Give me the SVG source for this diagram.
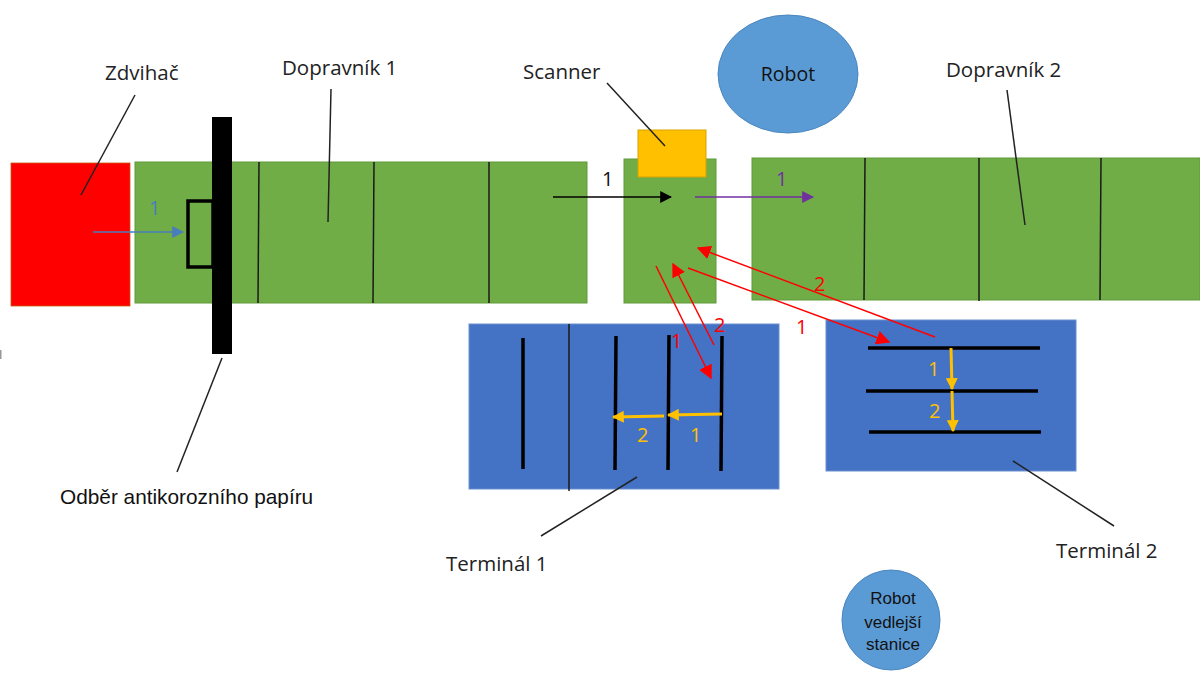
<svg xmlns="http://www.w3.org/2000/svg" width="1200" height="673" viewBox="0 0 1200 673">
  <defs>
    <style>
      .lbl { font-family: "Open Sans", "Liberation Sans", sans-serif; font-size: 20.5px; fill: #222; }
      .lblA { font-family: "Liberation Sans", Arial, sans-serif; font-size: 20.8px; fill: #111; }
      .num { font-family: "Open Sans", "Liberation Sans", sans-serif; font-size: 20px; }
      .robotTxt { font-family: "Open Sans", "Liberation Sans", sans-serif; font-size: 19.5px; fill: #111; text-anchor: middle; }
      .small { font-family: "Liberation Sans", Arial, sans-serif; font-size: 17px; fill: #111; text-anchor: middle; }
      .green { fill: #70AD47; stroke: #5E9A3A; stroke-width: 1; }
      .term { fill: #4472C4; stroke: #6A8FD0; stroke-width: 1; }
      .div { stroke: #1a1a1a; stroke-width: 1.5; }
      .rail { stroke: #000; stroke-width: 3.5; stroke-linecap: butt; }
      .leader { stroke: #222; stroke-width: 1.5; fill: none; }
      .robot { fill: #5B9BD5; stroke: #4A86BE; stroke-width: 1; }
      .red { stroke: #FF0000; stroke-width: 1.5; fill: none; }
      .yel { stroke: #FFC000; stroke-width: 3; fill: none; }
    </style>
    <marker id="mRedL" viewBox="0 0 10 10" refX="9" refY="5" markerWidth="14" markerHeight="14" markerUnits="userSpaceOnUse" orient="auto">
      <path d="M0,0 L10,5 L0,10 z" fill="#FF0000"/>
    </marker>
    <marker id="mYel" viewBox="0 0 10 10" refX="9" refY="5" markerWidth="12" markerHeight="12" markerUnits="userSpaceOnUse" orient="auto">
      <path d="M0,0 L10,5 L0,10 z" fill="#FFC000"/>
    </marker>
    <marker id="mBlk" viewBox="0 0 10 10" refX="9" refY="5" markerWidth="12" markerHeight="12" markerUnits="userSpaceOnUse" orient="auto">
      <path d="M0,0 L10,5 L0,10 z" fill="#000"/>
    </marker>
    <marker id="mPur" viewBox="0 0 10 10" refX="9" refY="5" markerWidth="12" markerHeight="12" markerUnits="userSpaceOnUse" orient="auto">
      <path d="M0,0 L10,5 L0,10 z" fill="#7030A0"/>
    </marker>
    <marker id="mBlu" viewBox="0 0 10 10" refX="9" refY="5" markerWidth="12" markerHeight="12" markerUnits="userSpaceOnUse" orient="auto">
      <path d="M0,0 L10,5 L0,10 z" fill="#4A7EBB"/>
    </marker>
  </defs>

  <rect width="1200" height="673" fill="#fff"/>
  <rect x="0" y="350" width="1.5" height="9" fill="#999"/>

  <!-- lift -->
  <g id="zdvihac">
    <rect x="11" y="163" width="119" height="143" fill="#FF0000" stroke="#C55A11" stroke-width="0.8"/>
    <text class="lbl" x="105" y="80">Zdvihač</text>
  </g>

  <!-- conveyor 1 -->
  <g id="dopravnik1">
    <rect class="green" x="135" y="162" width="452" height="141"/>
    <line class="div" x1="259" y1="162" x2="258" y2="303"/>
    <line class="div" x1="374" y1="162" x2="373" y2="303"/>
    <line class="div" x1="489" y1="162" x2="489" y2="303"/>
    <text class="lbl" x="282" y="75">Dopravník 1</text>
  </g>

  <!-- anticorrosion paper take-off -->
  <g id="odber">
    <rect x="188" y="201" width="25" height="66" fill="none" stroke="#000" stroke-width="3.5"/>
    <rect x="212" y="117" width="20" height="237" fill="#000"/>
    <text class="lblA" x="60" y="504">Odběr antikorozního papíru</text>
  </g>

  <!-- scanner station -->
  <g id="scanner-stanice">
    <rect class="green" x="624" y="159" width="92" height="144"/>
  </g>
  <g id="scanner">
    <rect x="638" y="130" width="68" height="47" fill="#FFC000" stroke="#D9A300" stroke-width="1"/>
    <text class="lbl" x="523" y="79">Scanner</text>
  </g>

  <!-- main robot -->
  <g id="robot">
    <ellipse class="robot" cx="788" cy="74" rx="70" ry="59"/>
    <text class="robotTxt" x="788" y="81">Robot</text>
  </g>

  <!-- conveyor 2 -->
  <g id="dopravnik2">
    <rect class="green" x="752" y="158" width="448" height="142"/>
    <line class="div" x1="865" y1="158" x2="864" y2="300"/>
    <line class="div" x1="979" y1="158" x2="979" y2="301"/>
    <line class="div" x1="1101" y1="158" x2="1100" y2="300"/>
    <text class="lbl" x="946" y="77">Dopravník 2</text>
  </g>

  <!-- terminal 1 -->
  <g id="terminal1">
    <rect class="term" x="469" y="324" width="310" height="165"/>
    <line class="div" x1="569" y1="324" x2="569" y2="491"/>
    <line class="rail" x1="523" y1="338" x2="523" y2="469"/>
    <line class="rail" x1="616" y1="336" x2="615" y2="470"/>
    <line class="rail" x1="669" y1="335" x2="668" y2="470"/>
    <line class="rail" x1="722" y1="336" x2="721" y2="471"/>
    <text class="lbl" x="446" y="571">Terminál 1</text>
  </g>

  <!-- terminal 2 -->
  <g id="terminal2">
    <rect class="term" x="826" y="320" width="250" height="151"/>
    <line class="rail" x1="868" y1="348" x2="1040" y2="348"/>
    <line class="rail" x1="866" y1="391" x2="1038" y2="391"/>
    <line class="rail" x1="869" y1="432" x2="1041" y2="432"/>
    <text class="lbl" x="1056" y="558">Terminál 2</text>
  </g>

  <!-- secondary robot -->
  <g id="robot-vedlejsi">
    <ellipse class="robot" cx="891" cy="620" rx="49" ry="50"/>
    <text class="small" x="893" y="604">Robot</text>
    <text class="small" x="893" y="628">vedlejší</text>
    <text class="small" x="893" y="650">stanice</text>
  </g>

  <!-- connectors -->
  <g id="connectors">
    <!-- label leaders -->
    <line class="leader" x1="135" y1="95" x2="81" y2="195"/>
    <line class="leader" x1="331" y1="89" x2="328" y2="222"/>
    <line class="leader" x1="607" y1="83" x2="665" y2="146"/>
    <line class="leader" x1="1007" y1="90" x2="1025" y2="225"/>
    <line class="leader" x1="222" y1="358" x2="177" y2="472"/>
    <line class="leader" x1="637" y1="477" x2="541" y2="536"/>
    <line class="leader" x1="1013" y1="461" x2="1114" y2="526"/>

    <!-- lift to conveyor 1 -->
    <line x1="93" y1="232" x2="183" y2="232" stroke="#4A7EBB" stroke-width="1.5" marker-end="url(#mBlu)"/>
    <text class="num" x="149" y="215" fill="#4A7EBB">1</text>

    <!-- conveyor 1 to scanner -->
    <line x1="553" y1="197" x2="671" y2="197" stroke="#000" stroke-width="1.5" marker-end="url(#mBlk)"/>
    <text class="num" x="602" y="186" fill="#111">1</text>

    <!-- scanner to conveyor 2 -->
    <line x1="695" y1="197" x2="813" y2="197" stroke="#7030A0" stroke-width="1.5" marker-end="url(#mPur)"/>
    <text class="num" x="776" y="186" fill="#7030A0">1</text>

    <!-- scanner <-> terminal 2 -->
    <line class="red" x1="935" y1="337" x2="698" y2="248" marker-end="url(#mRedL)"/>
    <text class="num" x="814" y="291" fill="#FF0000">2</text>
    <line class="red" x1="688" y1="268" x2="889" y2="342" marker-end="url(#mRedL)"/>
    <text class="num" x="796" y="334" fill="#FF0000">1</text>

    <!-- scanner <-> terminal 1 -->
    <line class="red" x1="656" y1="266" x2="711" y2="378" marker-end="url(#mRedL)"/>
    <text class="num" x="671" y="348" fill="#FF0000">1</text>
    <line class="red" x1="714" y1="345" x2="673" y2="264" marker-end="url(#mRedL)"/>
    <text class="num" x="714" y="332" fill="#FF0000">2</text>

    <!-- terminal 1 internal moves -->
    <line class="yel" x1="722" y1="414" x2="668" y2="415" marker-end="url(#mYel)"/>
    <text class="num" x="690" y="442" fill="#FFC000">1</text>
    <line class="yel" x1="664" y1="416" x2="613" y2="417" marker-end="url(#mYel)"/>
    <text class="num" x="637" y="442" fill="#FFC000">2</text>

    <!-- terminal 2 internal moves -->
    <line class="yel" x1="951" y1="348" x2="952" y2="389" marker-end="url(#mYel)"/>
    <text class="num" x="928" y="376" fill="#FFC000">1</text>
    <line class="yel" x1="952" y1="391" x2="953" y2="431" marker-end="url(#mYel)"/>
    <text class="num" x="929" y="418" fill="#FFC000">2</text>
  </g>
</svg>
